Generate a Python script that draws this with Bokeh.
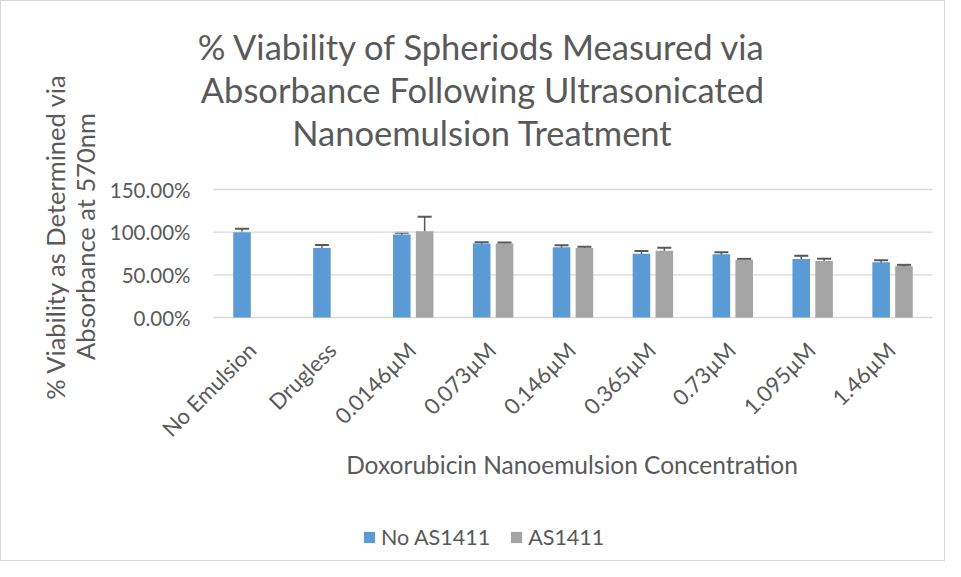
import math
from bokeh.plotting import figure
from bokeh.models import (ColumnDataSource, Range1d, Whisker, TeeHead, Legend, LegendItem)
from bokeh.core.properties import value
from bokeh.embed import file_html
from bokeh.resources import INLINE

categories = ["No Emulsion", "Drugless", "0.0146µM", "0.073µM", "0.146µM",
              "0.365µM", "0.73µM", "1.095µM", "1.46µM"]
no_as1411 = [1.000, 0.815, 0.973, 0.866, 0.822, 0.748, 0.741, 0.686, 0.646]
no_as1411_err = [0.039, 0.035, 0.020, 0.015, 0.025, 0.030, 0.025, 0.037, 0.025]
as1411_cats = ["0.0146µM", "0.073µM", "0.146µM", "0.365µM", "0.73µM", "1.095µM", "1.46µM"]
as1411 = [1.012, 0.867, 0.813, 0.783, 0.677, 0.661, 0.602]
as1411_err = [0.169, 0.012, 0.017, 0.035, 0.010, 0.028, 0.015]
y_ticks = [0.0, 0.5, 1.0, 1.5]
y_tick_labels = ["0.00%", "50.00%", "100.00%", "150.00%"]

title_lines = ["% Viability of Spheriods Measured via",
               "Absorbance Following Ultrasonicated",
               "Nanoemulsion Treatment"]
y_title_lines = ["% Viability as Determined via", "Absorbance at 570nm"]
x_title = "Doxorubicin Nanoemulsion Concentration"
series_names = ["No AS1411", "AS1411"]

BLUE = "#5B9BD5"
GRAY = "#A5A5A5"
TXT = "#595959"
GRID = "#D9D9D9"
FONT = "Lato"

# ---- layout (pixels inside the figure canvas) ----
W, H = 945, 561
PX0, PX1 = 212, 931          # plot area left / right
PY0, PYT = 316, 188          # pixel row of 0 % and of the top tick
YMAX = y_ticks[-1]
ncat = len(categories)
ux = (PX1 - PX0) / ncat
uy = (PY0 - PYT) / YMAX


def dx(px):   # canvas pixel column -> data x
    return (px - PX0) / ux


def dy(py):   # canvas pixel row -> data y
    return (PY0 - py) / uy


p = figure(width=W, height=H, output_backend="svg", toolbar_location=None,
           x_range=Range1d(dx(0), dx(W)), y_range=Range1d(dy(H), dy(0)),
           x_axis_location=None, y_axis_location=None,
           min_border=0, min_border_left=0, min_border_right=0,
           min_border_top=0, min_border_bottom=0)
p.styles = {"border": "1px solid #D9D9D9"}
p.outline_line_color = None
p.grid.visible = False
p.background_fill_color = "white"
p.border_fill_color = "white"

idx = {c: i for i, c in enumerate(categories)}
off = 0.143
bw = 0.22

# gridlines and category axis line
p.segment(x0=[0] * (len(y_ticks) - 1), x1=[ncat] * (len(y_ticks) - 1),
          y0=y_ticks[1:], y1=y_ticks[1:], line_color=GRID, line_width=1.3)
p.segment(x0=[0], x1=[ncat], y0=[y_ticks[0]], y1=[y_ticks[0]], line_color=GRID, line_width=1.6)

src_a = ColumnDataSource(dict(
    x=[idx[c] + 0.5 - off for c in categories], val=no_as1411,
    upper=[v + e for v, e in zip(no_as1411, no_as1411_err)],
    lower=[v - e for v, e in zip(no_as1411, no_as1411_err)]))
src_b = ColumnDataSource(dict(
    x=[idx[c] + 0.5 + off for c in as1411_cats], val=as1411,
    upper=[v + e for v, e in zip(as1411, as1411_err)],
    lower=[v - e for v, e in zip(as1411, as1411_err)]))

ra = p.vbar(x="x", top="val", bottom=0, width=bw, source=src_a, fill_color=BLUE, line_color=None)
rb = p.vbar(x="x", top="val", bottom=0, width=bw, source=src_b, fill_color=GRAY, line_color=None)

for src in (src_a, src_b):
    p.add_layout(Whisker(source=src, base="x", upper="upper", lower="lower",
                         line_color=TXT, line_width=1.5,
                         upper_head=TeeHead(size=14, line_color=TXT, line_width=2),
                         lower_head=TeeHead(size=14, line_color=TXT, line_width=2)))

# y tick labels
p.text(x=[dx(189)] * len(y_ticks), y=y_ticks, text=y_tick_labels,
       text_align="right", text_baseline="middle", text_font=value(FONT),
       text_font_size="20.5px", text_color=TXT)

# x tick labels (rotated 45 degrees)
p.text(x=[i + 0.5 - 11 / ux for i in range(ncat)], y=[dy(335)] * ncat, text=categories,
       angle=math.pi / 4, text_align="right", text_baseline="top", text_font=value(FONT),
       text_font_size="22px", text_color=TXT)

# chart title
p.text(x=[dx(481)] * 3, y=[dy(45), dy(88), dy(131)], text=title_lines,
       text_align="center", text_baseline="alphabetic", text_font=value(FONT),
       text_font_size="34.5px", text_color=TXT)

# axis titles
p.text(x=[dx(53), dx(83)], y=[dy(235), dy(235)], text=y_title_lines, angle=math.pi / 2,
       text_align="center", text_baseline="middle", text_font=value(FONT),
       text_font_size="25.5px", text_color=TXT)
p.text(x=[dx(570.5)], y=[dy(463)], text=[x_title], text_align="center",
       text_baseline="alphabetic", text_font=value(FONT), text_font_size="24.5px", text_color=TXT)

legend = Legend(items=[LegendItem(label=series_names[0], renderers=[ra]),
                       LegendItem(label=series_names[1], renderers=[rb])],
                orientation="horizontal", location=(361, 12),
                glyph_width=14, glyph_height=14, label_standoff=5, spacing=19,
                padding=0, margin=0, border_line_color=None, background_fill_alpha=0,
                label_text_font=FONT, label_text_font_size="21.5px", label_text_color=TXT)
p.add_layout(legend)

open("out.html", "w").write(file_html(p, INLINE))
